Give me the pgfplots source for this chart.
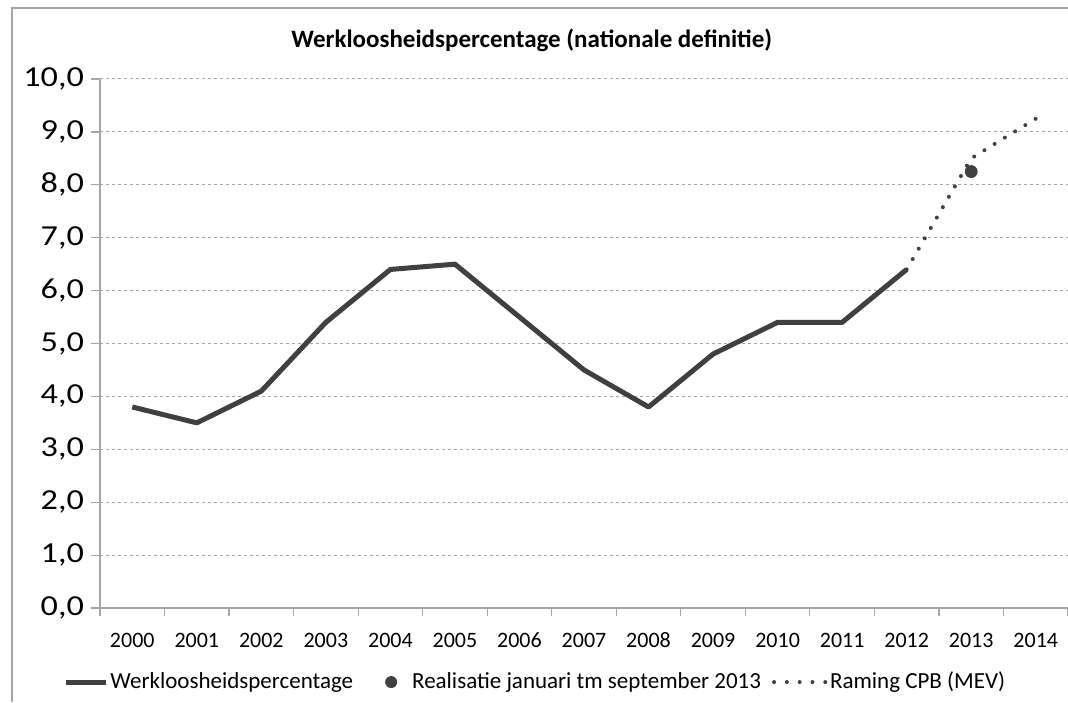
\documentclass[border=0pt]{standalone}
\usepackage{fontspec}
\setmainfont{Carlito}
\usepackage{graphicx}
\usepackage{pgfplots}
\pgfplotsset{compat=1.18}
\definecolor{ln}{HTML}{404040}
\definecolor{ax}{HTML}{A6A6A6}
\newcommand{\yl}[1]{\scalebox{1.18}[1]{#1}}
\begin{document}
\begin{tikzpicture}
\useasboundingbox (-50pt,-47pt) rectangle (484pt,304pt);
\draw[ax, line width=0.7pt] (-44pt,-47pt) -- (-44pt,300pt) -- (484pt,300pt);
\begin{axis}[
  scale only axis, width=484pt, height=264.5pt,
  xmin=-0.5, xmax=14.5, ymin=0, ymax=10,
  clip=false,
  axis x line*=bottom, axis y line*=left,
  axis line style={ax, line width=0.6pt, -},
  tick align=outside,
  xtick={0,...,14},
  xticklabels={2000,2001,2002,2003,2004,2005,2006,2007,2008,2009,2010,2011,2012,2013,2014},
  major x tick style={draw=none},
  minor xtick={-0.5,0.5,...,14.5},
  minor x tick style={ax, line width=0.6pt},
  minor tick length=4pt,
  ytick={0,1,...,10},
  yticklabels={\yl{0,0},\yl{1,0},\yl{2,0},\yl{3,0},\yl{4,0},\yl{5,0},\yl{6,0},\yl{7,0},\yl{8,0},\yl{9,0},\yl{10,0}},
  major y tick style={ax, line width=0.6pt},
  major tick length=4.5pt,
  ymajorgrids,
  major grid style={ax, dash pattern=on 1.5pt off 1.5pt, line width=0.5pt},
  y tick label style={font=\fontsize{14.5}{17}\selectfont, xshift=0pt},
  x tick label style={font=\fontsize{11}{13}\selectfont, text height=8pt, text depth=0pt, yshift=-3.5pt},
  legend columns=3,
  legend style={at={(rel axis cs:-0.0382,-0.140)}, anchor=west, draw=none, fill=none, inner sep=0pt,
    font=\fontsize{11.5}{13}\selectfont,
    nodes={inner xsep=1pt},
    column sep=0pt},
]
\addplot[ln, line width=2.5pt, line join=round,
  legend image code/.code={\draw[ln, line width=2.5pt] (0pt,0pt) -- (20pt,0pt);}]
  coordinates {(0,3.8)(1,3.5)(2,4.1)(3,5.4)(4,6.4)(5,6.5)(6,5.5)(7,4.5)(8,3.8)(9,4.8)(10,5.4)(11,5.4)(12,6.4)};
\addlegendentry{Werkloosheidspercentage}
\addplot[only marks, mark=*, mark size=3pt, ln,
  legend image code/.code={\path[draw=none, fill=none] (0pt,0pt) -- (27.5pt,0pt); \fill[ln, draw=none] (18pt,0pt) circle (3pt);}]
  coordinates {(13,8.25)};
\addlegendentry{Realisatie januari tm september 2013}
\addplot[ln, line width=2pt, line cap=round, dash pattern=on 0pt off 6pt,
  legend image code/.code={\path[draw=none, fill=none] (0pt,0pt) -- (32pt,0pt); \draw[ln, line width=2pt, line cap=round, dash pattern=on 0pt off 6.4pt] (5.5pt,0pt) -- (31.5pt,0pt);}]
  coordinates {(12,6.4)(13,8.5)(14,9.25)};
\addlegendentry{Raming CPB (MEV)}
\node[font=\bfseries\fontsize{12.5}{15}\selectfont] at (rel axis cs:0.446,1.074) {Werkloosheidspercentage (nationale definitie)};
\end{axis}
\end{tikzpicture}
\end{document}
